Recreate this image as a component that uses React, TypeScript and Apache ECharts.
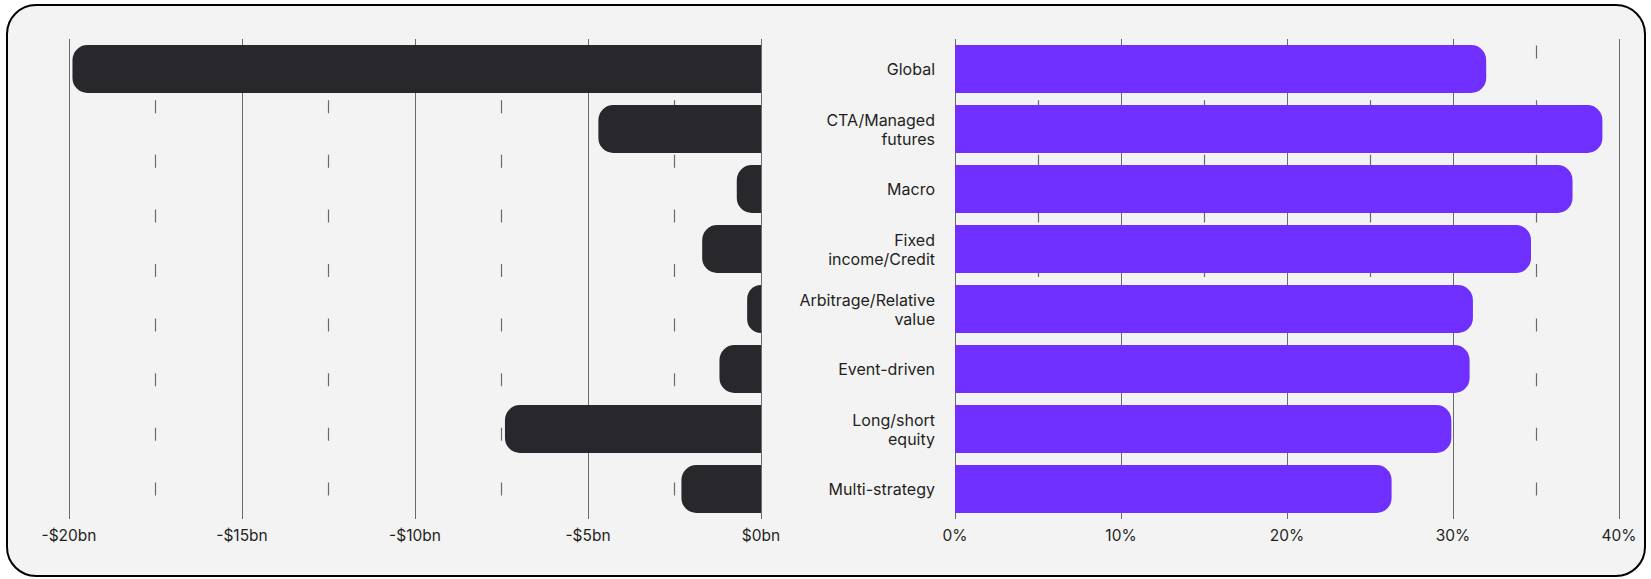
import React, { useEffect, useRef } from "react";
import * as echarts from "echarts";

const categories = [
  "Global",
  "CTA/Managed\nfutures",
  "Macro",
  "Fixed\nincome/Credit",
  "Arbitrage/Relative\nvalue",
  "Event-driven",
  "Long/short\nequity",
  "Multi-strategy",
];
const flowsBn = [-19.9, -4.7, -0.7, -1.7, -0.4, -1.2, -7.4, -2.3];
const sharePct = [32.0, 39.0, 37.2, 34.7, 31.2, 31.0, 29.9, 26.3];
const flowTicks = [-20, -15, -10, -5, 0];
const flowTickLabels = ["-$20bn", "-$15bn", "-$10bn", "-$5bn", "$0bn"];
const shareTicks = [0, 10, 20, 30, 40];
const shareTickLabels = ["0%", "10%", "20%", "30%", "40%"];

const FONT = "Inter, 'Noto Sans', sans-serif";
const TEXT = "#1f1f22";
const GRID = "#6a6a6a";

export default function App() {
  const ref = useRef<HTMLDivElement>(null);

  useEffect(() => {
    if (!ref.current) return;
    const chart = echarts.init(ref.current, undefined, { renderer: "svg" });

    const splitLine = { show: true, lineStyle: { color: GRID, width: 1, type: "solid" } };
    const minorSplitLine = {
      show: true,
      lineStyle: { color: GRID, width: 1.2, type: [13, 41.6], dashOffset: 47.6 },
    };
    const tickLabel = (ticks: number[], labels: string[]) => (v: number) => {
      const i = ticks.findIndex((t) => Math.abs(t - v) < 1e-9);
      return i >= 0 ? labels[i] : "";
    };

    chart.setOption({
      animation: false,
      backgroundColor: "transparent",
      grid: [
        { left: 69, top: 39, width: 692, height: 480 },
        { left: 955, top: 39, width: 664, height: 480 },
      ],
      xAxis: [
        {
          gridIndex: 0,
          type: "value",
          min: -20,
          max: 0,
          interval: 5,
          axisLine: { show: false },
          axisTick: { show: false },
          minorTick: { show: false, splitNumber: 2 },
          splitLine,
          minorSplitLine,
          axisLabel: {
            margin: 8,
            fontSize: 15.5,
            fontFamily: FONT,
            color: TEXT,
            formatter: tickLabel(flowTicks, flowTickLabels),
          },
        },
        {
          gridIndex: 1,
          type: "value",
          min: 0,
          max: 40,
          interval: 10,
          axisLine: { show: false },
          axisTick: { show: false },
          minorTick: { show: false, splitNumber: 2 },
          splitLine,
          minorSplitLine,
          axisLabel: {
            margin: 8,
            fontSize: 15.5,
            fontFamily: FONT,
            color: TEXT,
            formatter: tickLabel(shareTicks, shareTickLabels),
          },
        },
      ],
      yAxis: [
        {
          gridIndex: 0,
          type: "category",
          data: categories,
          inverse: true,
          show: false,
        },
        {
          gridIndex: 1,
          type: "category",
          data: categories,
          inverse: true,
          axisLine: { show: false },
          axisTick: { show: false },
          splitLine: { show: false },
          axisLabel: {
            margin: 20,
            fontSize: 16,
            lineHeight: 19,
            fontFamily: FONT,
            color: TEXT,
            align: "right",
          },
        },
      ],
      series: [
        {
          type: "bar",
          xAxisIndex: 0,
          yAxisIndex: 0,
          data: flowsBn,
          barWidth: 48,
          itemStyle: { color: "#28272c", borderRadius: [15, 0, 0, 15] },
        },
        {
          type: "bar",
          xAxisIndex: 1,
          yAxisIndex: 1,
          data: sharePct,
          barWidth: 48,
          itemStyle: { color: "#6e2fff", borderRadius: [0, 15, 15, 0] },
        },
      ],
    });

    return () => chart.dispose();
  }, []);

  return (
    <div
      style={{
        position: "absolute",
        left: 0,
        top: 0,
        width: 1651,
        height: 579,
        background: "#ffffff",
        overflow: "hidden",
      }}
    >
      <div
        style={{
          position: "absolute",
          left: 6,
          top: 4,
          width: 1636,
          height: 569,
          border: "2px solid #000",
          borderRadius: 30,
          background: "#f3f3f3",
        }}
      />
      <div ref={ref} style={{ position: "absolute", left: 0, top: 0, width: 1651, height: 579 }} />
    </div>
  );
}
